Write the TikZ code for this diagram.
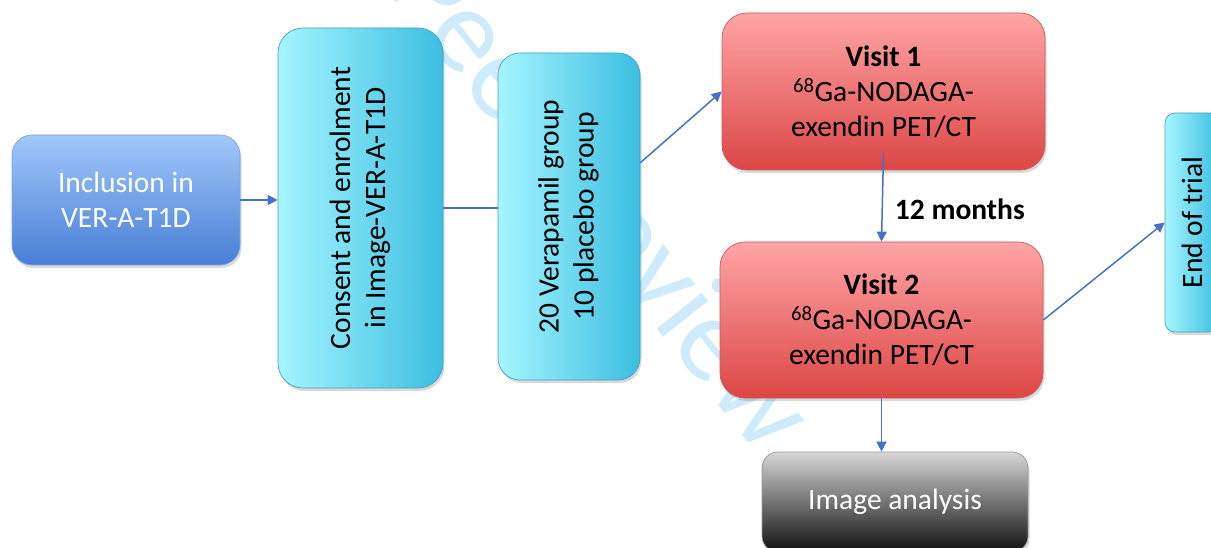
\documentclass[tikz,border=0pt]{standalone}
\usepackage{fontspec}
\setmainfont{Carlito}
\usetikzlibrary{arrows.meta,shadows}

\definecolor{inclTop}{RGB}{160,200,250}
\definecolor{inclBot}{RGB}{72,126,214}
\definecolor{inclEdge}{RGB}{120,165,230}
\definecolor{cyanL}{RGB}{165,245,255}
\definecolor{cyanR}{RGB}{60,190,225}
\definecolor{cyanEdge}{RGB}{70,160,190}
\definecolor{redTop}{RGB}{255,165,165}
\definecolor{redBot}{RGB}{220,70,70}
\definecolor{redEdge}{RGB}{205,90,90}
\definecolor{grayTop}{RGB}{215,215,215}
\definecolor{grayBot}{RGB}{15,15,15}
\definecolor{grayEdge}{RGB}{150,150,150}
\definecolor{wmark}{RGB}{205,235,250}
\definecolor{arrowc}{RGB}{68,114,196}

\tikzset{
  box/.style={rounded corners=22pt, align=center, inner sep=0pt, line width=0.7pt,
    font=\fontsize{29.5}{35}\selectfont,
    drop shadow={opacity=0.3, shadow xshift=1.5pt, shadow yshift=-3pt}},
  bluebox/.style={box, top color=inclTop, bottom color=inclBot, draw=inclEdge, text=white},
  cyanbox/.style={box, left color=cyanL, right color=cyanR, draw=cyanEdge},
  redbox/.style={box, top color=redTop, bottom color=redBot, draw=redEdge},
  graybox/.style={box, top color=grayTop, bottom color=grayBot, draw=grayEdge, text=white},
  link/.style={draw=arrowc, line width=1.5pt},
  flow/.style={link, -{Triangle[length=10pt,width=10pt]}},
}

\begin{document}
\begin{tikzpicture}[x=1pt, y=-1pt]
  \useasboundingbox (0,0) rectangle (1211,548);

  % watermark behind the boxes
  \node[font=\fontsize{121}{130}\selectfont, text=wmark, rotate=-51.4] (wm) at (546,124) {For Peer Review};

  \node[bluebox, minimum width=228pt, minimum height=130pt, rounded corners=20pt] (incl) at (126,200)
    {Inclusion in\\VER-A-T1D};
  \node[cyanbox, minimum width=165pt, minimum height=360pt, rounded corners=25pt] (consent) at (360.5,208)
    {\rotatebox{90}{\begin{tabular}{@{}c@{}}Consent and enrolment\\in Image-VER-A-T1D\end{tabular}}};
  \node[cyanbox, minimum width=142pt, minimum height=327pt] (group) at (569,216.5)
    {\rotatebox{90}{\begin{tabular}{@{}c@{}}20 Verapamil group\\10 placebo group\end{tabular}}};
  \node[redbox, minimum width=323pt, minimum height=157pt, rounded corners=25pt] (visit1) at (883.5,91.5)
    {\textbf{Visit 1}\\\textsuperscript{68}Ga-NODAGA-\\exendin PET/CT};
  \node[redbox, minimum width=323pt, minimum height=156pt, rounded corners=25pt] (visit2) at (881.5,320)
    {\textbf{Visit 2}\\\textsuperscript{68}Ga-NODAGA-\\exendin PET/CT};
  \node[graybox, minimum width=266pt, minimum height=100pt, rounded corners=16pt] (analysis) at (895,502)
    {Image analysis};
  \node[cyanbox, minimum width=54pt, minimum height=219pt, rounded corners=10pt] (end) at (1192,222.5)
    {\rotatebox{90}{End of trial}};

  \draw[flow] (incl.east) -- (incl.east -| consent.west);
  \draw[link] (consent.east) -- (consent.east -| group.west);
  \draw[flow] (group.37) -- (visit1.west);
  \draw[flow] ([yshift=18pt]visit1.south) -- (visit2.north)
    node[pos=0.64, anchor=west, xshift=12pt, inner sep=0pt, font=\fontsize{29.5}{35}\selectfont\bfseries] (months) {12 months};
  \draw[flow] (visit2.south) -- (visit2.south |- analysis.north);
  \draw[flow] (visit2.east) -- (end.west);
\end{tikzpicture}
\end{document}
